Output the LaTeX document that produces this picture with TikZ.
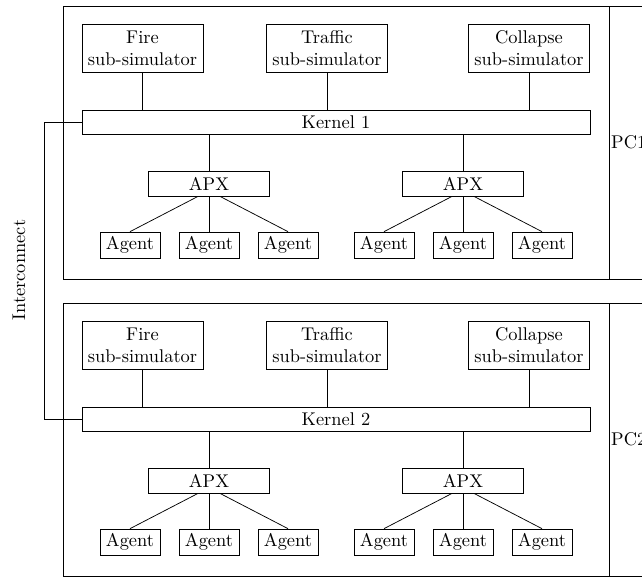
\documentclass[tikz,border=0pt]{standalone}
\usepackage{amsmath,amssymb}
\usepackage{tikz}
\usetikzlibrary{positioning}

\begin{document}
\begin{tikzpicture}[x=0.543pt, y=-0.543pt,
    simbox/.style={draw, align=center, inner sep=1pt, minimum width=65.7pt, minimum height=26.1pt},
    kernelbox/.style={draw, inner sep=1pt, minimum width=275.8pt, minimum height=13pt},
    apxbox/.style={draw, inner sep=1pt, minimum width=65.7pt, minimum height=13.6pt},
    agentbox/.style={draw, inner sep=1pt, minimum width=32.6pt, minimum height=14.1pt}]
    \useasboundingbox (0,0) rectangle (642,576);
    \clip (0,0) rectangle (642,576);

    % one PC per pass, the second one shifted down
    \foreach \i/\o in {1/0, 2/297} {
        \draw (63,6+\o) rectangle (700,279+\o);
        \draw (609,6+\o) -- (609,279+\o);
        \node[anchor=west, inner sep=1pt] (pc\i) at (609,142.5+\o) {PC\i};

        \node[simbox] (fire\i) at (142.5,48+\o) {Fire\\sub-simulator};
        \node[simbox] (traffic\i) at (327,48+\o) {Traffic\\sub-simulator};
        \node[simbox] (collapse\i) at (529,48+\o) {Collapse\\sub-simulator};
        \node[kernelbox] (kernel\i) at (336,122+\o) {Kernel \i};

        \node[apxbox] (apxa\i) at (209,183.5+\o) {APX};
        \node[apxbox] (apxb\i) at (463,183.5+\o) {APX};

        \node[agentbox] (agenta\i) at (130,245+\o) {Agent};
        \node[agentbox] (agentb\i) at (209,245+\o) {Agent};
        \node[agentbox] (agentc\i) at (288,245+\o) {Agent};
        \node[agentbox] (agentd\i) at (384,245+\o) {Agent};
        \node[agentbox] (agente\i) at (463,245+\o) {Agent};
        \node[agentbox] (agentf\i) at (542,245+\o) {Agent};

        \draw (fire\i) -- (fire\i |- kernel\i.north);
        \draw (traffic\i) -- (traffic\i |- kernel\i.north);
        \draw (collapse\i) -- (collapse\i |- kernel\i.north);
        \draw (apxa\i) -- (apxa\i |- kernel\i.south);
        \draw (apxb\i) -- (apxb\i |- kernel\i.south);

        \draw ([shift={(-11,0)}]apxa\i.south) -- (agenta\i.north);
        \draw (apxa\i) -- (agentb\i);
        \draw ([shift={(11,0)}]apxa\i.south) -- (agentc\i.north);
        \draw ([shift={(-11,0)}]apxb\i.south) -- (agentd\i.north);
        \draw (apxb\i) -- (agente\i);
        \draw ([shift={(11,0)}]apxb\i.south) -- (agentf\i.north);
    }

    % link between the two kernels
    \coordinate (ic) at (44.5,270);
    \draw (kernel1.west) -- (kernel1.west -| ic) -- (kernel2.west -| ic) -- (kernel2.west);
    \node[rotate=90] (iclabel) at (19,270) {Interconnect};
\end{tikzpicture}
\end{document}
